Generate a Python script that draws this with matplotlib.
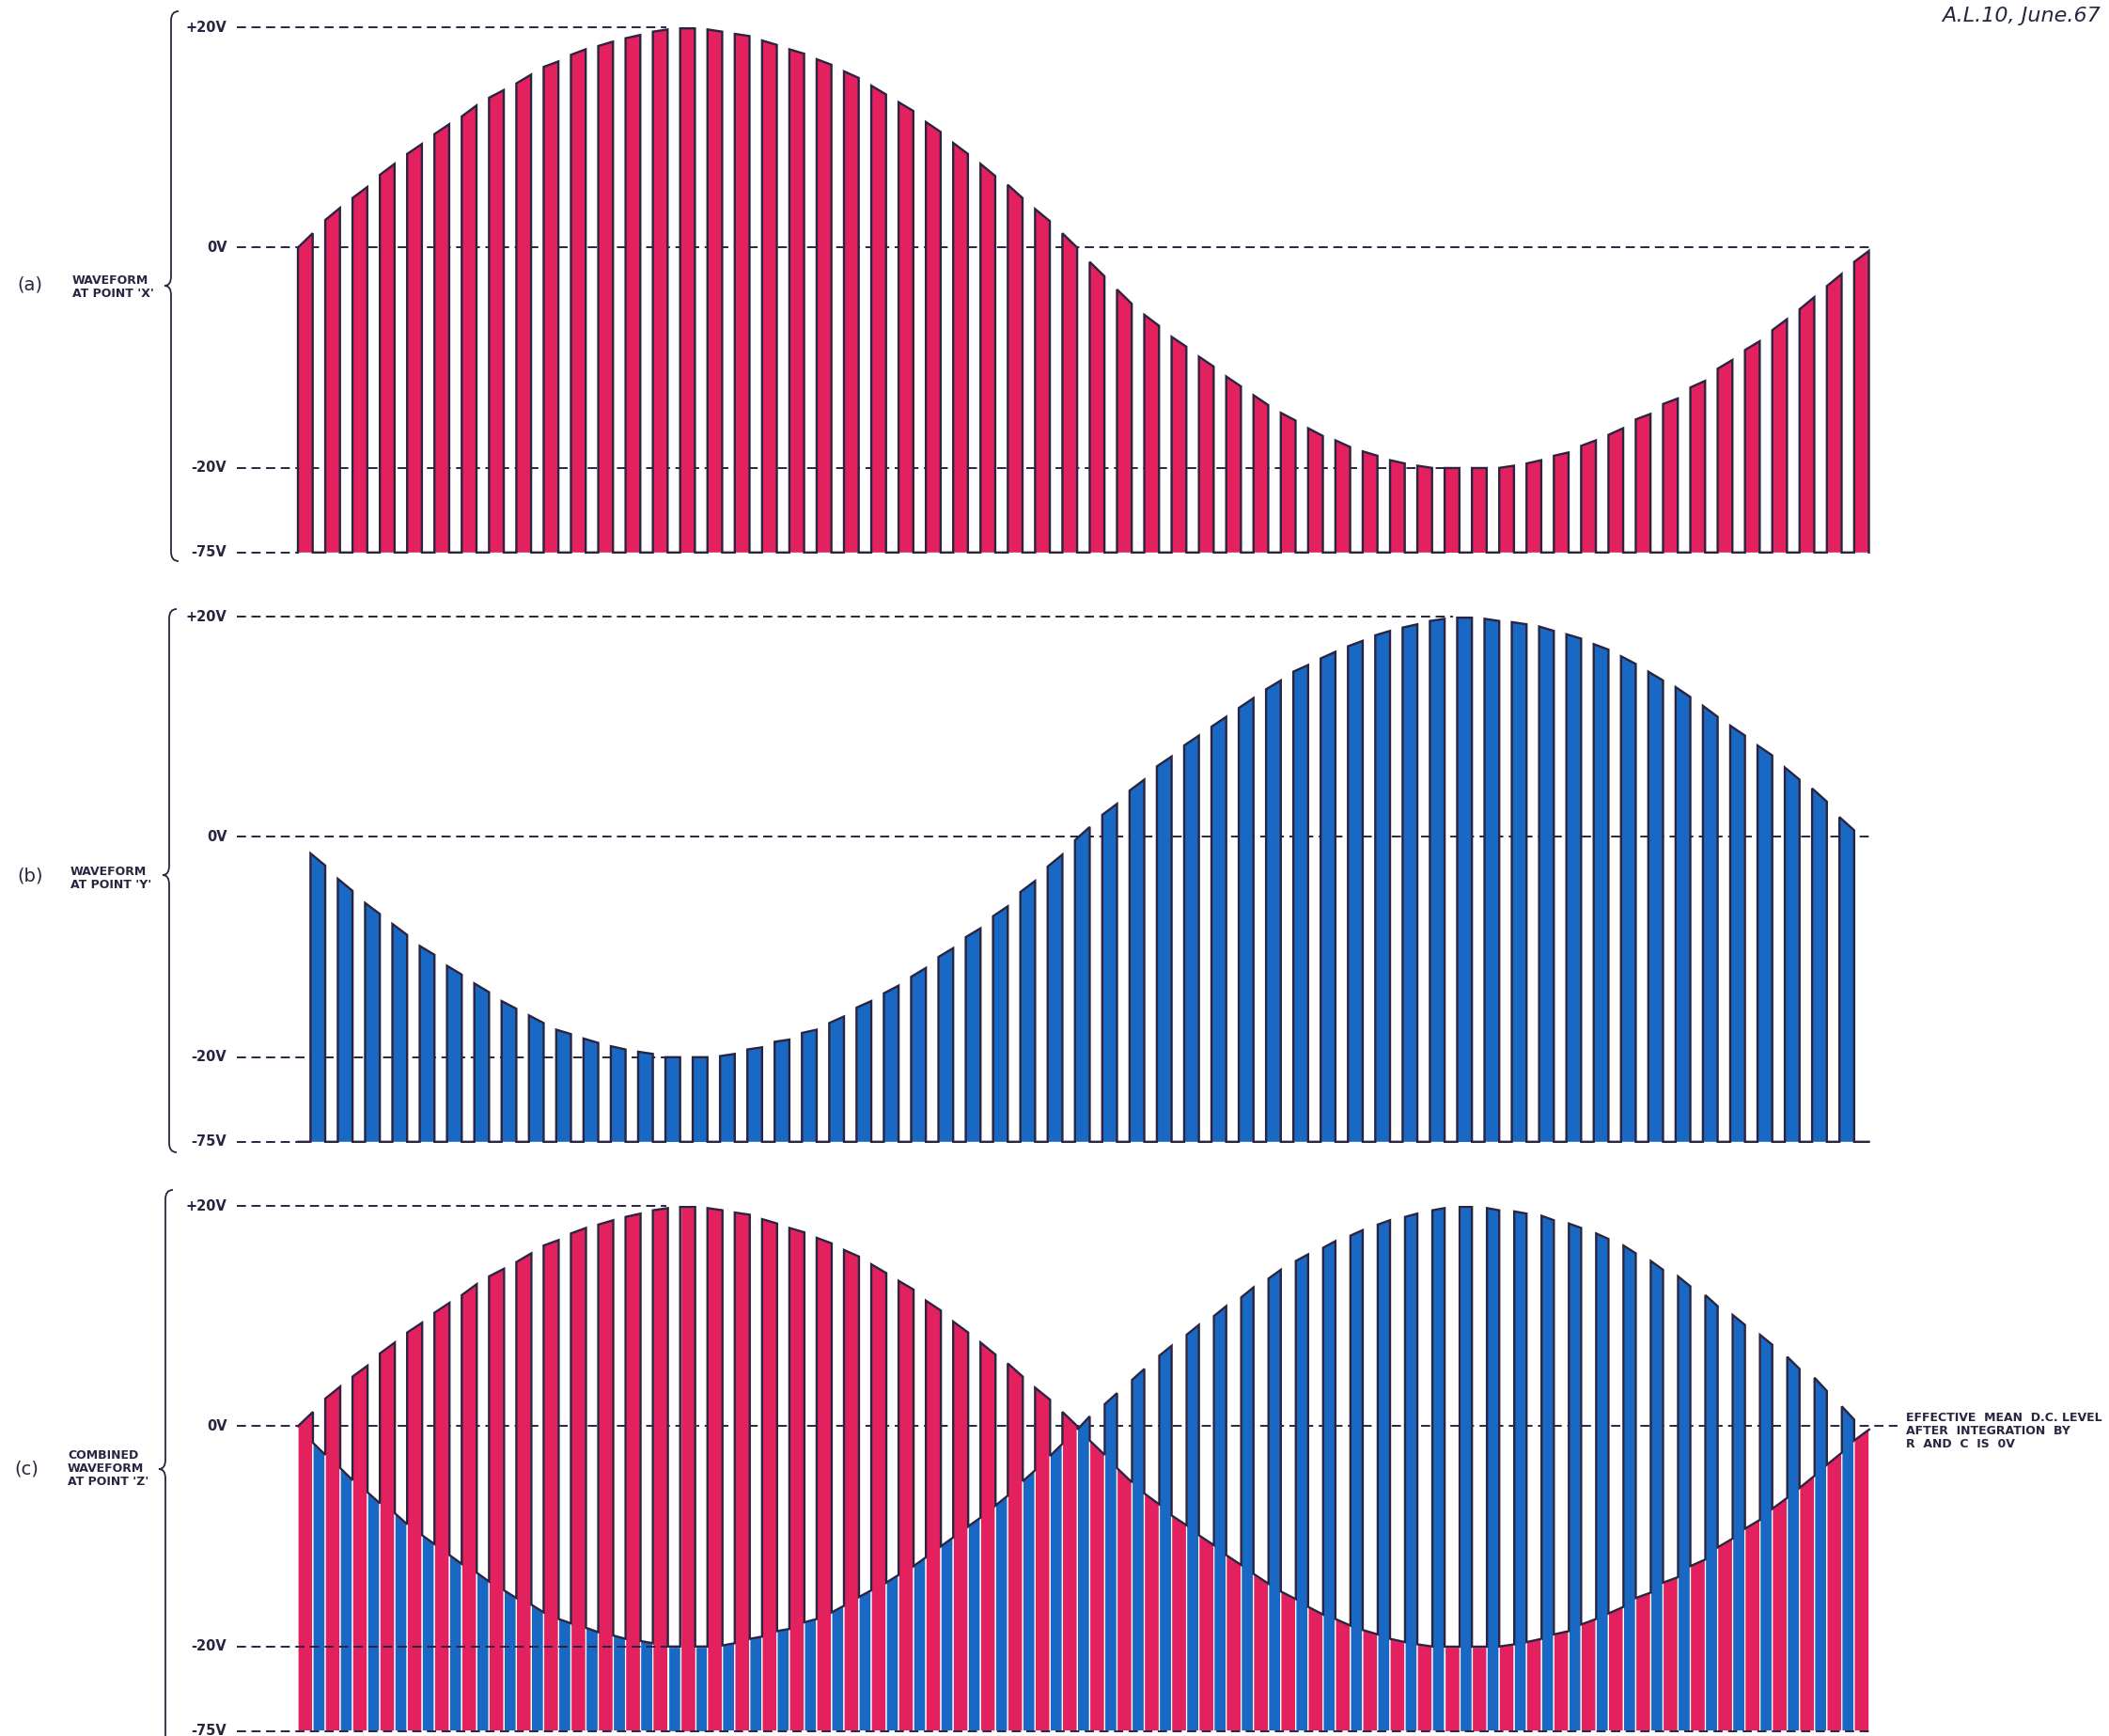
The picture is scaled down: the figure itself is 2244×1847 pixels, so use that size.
import numpy as np
import matplotlib
matplotlib.use("Agg")
import matplotlib.pyplot as plt
from matplotlib.patches import Polygon, PathPatch
from matplotlib.path import Path

# envelope values (volts) at the left / right edge of every pulse
# X: red pulses (58), Y: blue pulses (57) sitting in the gaps of X
x_left = [0.0, 2.5, 4.5, 6.6, 8.5, 10.3, 11.9, 13.6, 14.9, 16.4,
          17.5, 18.3, 19.0, 19.6, 19.9, 19.8, 19.4, 18.8, 18.0, 17.1,
          16.0, 14.7, 13.2, 11.4, 9.5, 7.6, 5.7, 3.5, 1.3,
          -1.3, -3.8, -6.1, -8.1, -9.9, -11.7, -13.4, -15.0, -16.4, -17.5,
          -18.5, -19.3, -19.8, -20.1, -20.1, -20.0, -19.6, -18.9, -18.0, -17.0,
          -15.6, -14.2, -12.7, -11.0, -9.3, -7.5, -5.6, -3.5, -1.3]
x_right = [1.3, 3.6, 5.5, 7.6, 9.4, 11.2, 12.9, 14.3, 15.7, 16.9,
           18.0, 18.7, 19.3, 19.8, 19.9, 19.6, 19.2, 18.4, 17.6, 16.6,
           15.4, 13.9, 12.4, 10.5, 8.5, 6.5, 4.5, 2.4, 0.0,
           -2.6, -5.1, -7.1, -9.0, -10.8, -12.6, -14.3, -15.7, -17.1, -18.1,
           -18.9, -19.6, -20.0, -20.1, -20.1, -19.8, -19.3, -18.6, -17.5, -16.4,
           -15.1, -13.7, -12.1, -10.2, -8.5, -6.5, -4.5, -2.4, -0.3]
y_left = [-1.5, -3.8, -6.0, -7.9, -9.9, -11.7, -13.3, -14.9, -16.2, -17.5,
          -18.3, -19.0, -19.5, -20.0, -20.0, -19.9, -19.3, -18.6, -17.8, -16.9,
          -15.5, -14.2, -12.7, -10.9, -9.1, -7.2, -5.0, -2.7, -0.3,
          2.0, 4.2, 6.4, 8.3, 10.0, 11.7, 13.4, 15.0, 16.2, 17.3,
          18.3, 19.0, 19.6, 19.9, 19.8, 19.5, 19.1, 18.4, 17.5, 16.4,
          15.0, 13.6, 11.9, 10.1, 8.3, 6.3, 4.4, 1.8]
y_right = [-2.6, -4.9, -7.0, -8.9, -10.7, -12.5, -14.1, -15.6, -16.9, -17.9,
           -18.7, -19.3, -19.7, -20.0, -20.0, -19.7, -19.1, -18.4, -17.5, -16.3,
           -14.9, -13.5, -11.9, -10.1, -8.3, -6.3, -4.0, -1.6, 0.9,
           3.0, 5.2, 7.3, 9.2, 10.9, 12.6, 14.2, 15.6, 16.8, 17.8,
           18.7, 19.3, 19.8, 19.9, 19.6, 19.3, 18.7, 18.0, 17.0, 15.7,
           14.2, 12.7, 10.9, 9.2, 7.4, 5.2, 3.2, 0.6]

level_values = [20, 0, -20, -75]
level_labels = ['+20V', '0V', '-20V', '-75V']

RED = '#e2215e'
BLUE = '#1868c4'
INK = '#2a2440'
W, H = 2244, 1847
PERIOD = 29.05     # pixels per pulse period
T0 = 317           # pixel of first pulse
DUTY_A = 0.54      # red pulse width in (a)
B_START = 0.46     # blue pulse start inside a period in (b)
DUTY_C = 0.55      # red share of a period in (c)
K = 7.68 / 55      # squeeze of the broken part below -20V


def fwd(v):
    v = np.asarray(v, dtype=float)
    return np.where(v >= -20, v, -20 + (v + 20) * K)


def inv(u):
    u = np.asarray(u, dtype=float)
    return np.where(u >= -20, u, -20 + (u + 20) / K)


fig = plt.figure(figsize=(W / 100, H / 100), dpi=100)
fig.patch.set_facecolor('white')


def make_axes(top_px):
    span = 20 - fwd(-75)
    h = span * 11.72
    ax = fig.add_axes([0, 1 - (top_px + h) / H, 1, h / H])
    ax.set_yscale('function', functions=(fwd, inv))
    ax.set_xlim(-T0 / PERIOD, (W - T0) / PERIOD)
    ax.set_ylim(-75, 20)
    ax.axis('off')
    return ax


def dashed(ax, v, t0, t1, z=1):
    ax.plot([t0, t1], [v, v], color=INK, lw=1.4, ls=(0, (5, 3)),
            zorder=z, clip_on=False, solid_capstyle='butt')


def levels(ax, ends, zs=(1, 1, 1, 1)):
    for v, lab, end, z in zip(level_values, level_labels, ends, zs):
        ax.text(-2.6, v, lab, ha='right', va='center', fontsize=10.5,
                fontweight='bold', color=INK)
        dashed(ax, v, -2.25, end, z)


def bar(ax, t0, t1, vl, vr, color, ec='none'):
    ax.add_patch(Polygon([(t0, -75), (t0, vl), (t1, vr), (t1, -75)], closed=True,
                         fc=color, ec=ec, lw=0.9, zorder=2, clip_on=False))


def fpx(x, y):
    return (x / W, 1 - y / H)


def brace(x0, ytop, ymid, ybot):
    pts = [(x0 + 8, ytop), (x0, ytop), (x0, ytop + 10), (x0, ymid - 10),
           (x0, ymid), (x0 - 7, ymid), (x0, ymid), (x0, ymid + 10),
           (x0, ybot - 10), (x0, ybot), (x0 + 8, ybot)]
    codes = [Path.MOVETO, Path.CURVE3, Path.CURVE3, Path.LINETO,
             Path.CURVE3, Path.CURVE3, Path.CURVE3, Path.CURVE3,
             Path.LINETO, Path.CURVE3, Path.CURVE3]
    p = Path([fpx(*q) for q in pts], codes)
    fig.add_artist(PathPatch(p, fc='none', ec=INK, lw=1.3, transform=fig.transFigure))


n_x = len(x_left)
n_y = len(y_left)

# ---- (a) waveform at point X
ax_a = make_axes(29)
levels(ax_a, [13.5, n_x - 1 + DUTY_A, 42.5, 0])
xs, ys = [0], [-75]
for k in range(n_x):
    bar(ax_a, k, k + DUTY_A, x_left[k], x_right[k], RED)
    xs += [k, k + DUTY_A, k + DUTY_A]
    ys += [x_left[k], x_right[k], -75]
    if k < n_x - 1:
        xs.append(k + 1)
        ys.append(-75)
ax_a.plot(xs, ys, color=INK, lw=1.7, zorder=3, clip_on=False, solid_joinstyle='miter')

# ---- (b) waveform at point Y
ax_b = make_axes(656)
levels(ax_b, [42.3, n_x - 1 + DUTY_A, 13.5, 0])
xs, ys = [0], [-75]
for k in range(n_y):
    bar(ax_b, k + B_START, k + 1, y_left[k], y_right[k], BLUE)
    xs += [k + B_START, k + B_START, k + 1, k + 1]
    ys += [-75, y_left[k], y_right[k], -75]
xs.append(n_x - 1 + DUTY_A)
ys.append(-75)
ax_b.plot(xs, ys, color=INK, lw=1.7, zorder=3, clip_on=False, solid_joinstyle='miter')

# ---- (c) combined waveform at point Z
ax_c = make_axes(1283)
levels(ax_c, [13.5, 58.6, 14.0, n_x - 1 + DUTY_C], zs=(1, 1, 4, 4))
xs, ys = [], []
for k in range(n_x):
    bar(ax_c, k, k + DUTY_C, x_left[k], x_right[k], RED, ec='white')
    xs += [k, k + DUTY_C]
    ys += [x_left[k], x_right[k]]
    if k < n_y:
        bar(ax_c, k + DUTY_C, k + 1, y_left[k], y_right[k], BLUE, ec='white')
        xs += [k + DUTY_C, k + 1]
        ys += [y_left[k], y_right[k]]
ax_c.plot(xs, ys, color=INK, lw=1.7, zorder=3, clip_on=False, solid_joinstyle='miter')

# ---- side labels and braces
lab_kw = dict(fontsize=9, fontweight='bold', color=INK, va='center', ha='left',
              linespacing=1.1)
fig.text(*fpx(18, 303), '(a)', fontsize=14, color=INK, va='center', ha='left')
fig.text(*fpx(77, 305), "WAVEFORM\nAT POINT 'X'", **lab_kw)
brace(182, 12, 304, 597)

fig.text(*fpx(18, 932), '(b)', fontsize=14, color=INK, va='center', ha='left')
fig.text(*fpx(75, 935), "WAVEFORM\nAT POINT 'Y'", **lab_kw)
brace(180, 648, 931, 1226)

fig.text(*fpx(15, 1563), '(c)', fontsize=14, color=INK, va='center', ha='left')
fig.text(*fpx(72, 1563), "COMBINED\nWAVEFORM\nAT POINT 'Z'", **lab_kw)
brace(176, 1266, 1563, 1860)

fig.text(*fpx(2028, 1522), 'EFFECTIVE  MEAN  D.C. LEVEL\nAFTER  INTEGRATION  BY\nR  AND  C  IS  0V',
         **lab_kw)

fig.text(*fpx(2066, 17), 'A.L.10, June.67', fontsize=16, style='italic',
         color=INK, va='center', ha='left')

fig.savefig('out.png', dpi=100, facecolor='white')
